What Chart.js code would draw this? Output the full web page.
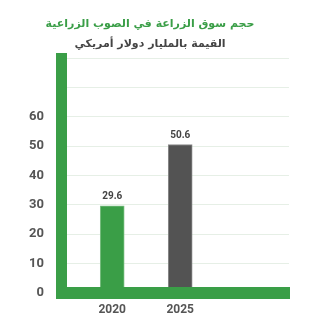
<!DOCTYPE html>
<html>
<head>
<meta charset="utf-8">
<script src="https://cdn.jsdelivr.net/npm/chart.js@4/dist/chart.umd.min.js"></script>
<style>
  body { margin: 0; background: #fff; }
</style>
</head>
<body>
<canvas id="marketChart" width="325" height="325"></canvas>
<script>
const years = [2020, 2025];
const marketSize = [29.6, 50.6];
const barColors = ["#3a9e47", "#535353"];
const yTicks = [0, 10, 20, 30, 40, 50, 60];

const GREEN = "#3a9e47";

// value labels above each bar
const valueLabels = {
  id: "valueLabels",
  afterDatasetsDraw(chart) {
    const ctx = chart.ctx;
    const meta = chart.getDatasetMeta(0);
    ctx.save();
    ctx.font = "bold 10px Roboto";
    ctx.fillStyle = "#444";
    ctx.textAlign = "center";
    ctx.textBaseline = "middle";
    meta.data.forEach((bar, i) => {
      ctx.fillText(marketSize[i].toFixed(1), bar.x, bar.y - 9);
    });
    ctx.restore();
  }
};

new Chart(document.getElementById("marketChart").getContext("2d"), {
  type: "bar",
  data: {
    datasets: [{
      data: years.map((y, i) => ({ x: y, y: marketSize[i] })),
      backgroundColor: barColors,
      borderColor: ["#7dbf84", "#8c8c8c"],
      borderWidth: 1,
      barThickness: 24
    }]
  },
  options: {
    responsive: false,
    animation: false,
    layout: { padding: { top: 6, left: 11, right: 36, bottom: -2 } },
    plugins: {
      legend: { display: false },
      tooltip: { enabled: false },
      title: {
        display: true,
        text: "حجم سوق الزراعة في الصوب الزراعية",
        color: GREEN,
        font: { family: "'DejaVu Sans'", size: 11, weight: "bold" },
        padding: { top: 12, bottom: 3 }
      },
      subtitle: {
        display: true,
        text: "القيمة بالمليار دولار أمريكي",
        color: "#444",
        font: { family: "'DejaVu Sans'", size: 11, weight: "bold" },
        padding: { top: 3, bottom: 8 }
      }
    },
    scales: {
      x: {
        type: "linear",
        offset: false,
        min: 2016.3,
        max: 2033,
        afterBuildTicks: scale => {
          scale.ticks = years.map(v => ({ value: v }));
        },
        grid: { display: false, drawTicks: false },
        border: { color: GREEN, width: 12, z: 1 },
        ticks: {
          color: "#555",
          font: { family: "Roboto", size: 12, weight: "bold" },
          padding: 10,
          callback: v => String(v)
        }
      },
      y: {
        min: 0,
        max: 80,
        ticks: {
          stepSize: 10,
          color: "#555",
          font: { family: "Roboto", size: 13, weight: "bold" },
          padding: 18,
          callback: v => (yTicks.includes(v) ? v : "")
        },
        grid: { color: "#e6efe6", drawTicks: false },
        border: { color: GREEN, width: 11, z: 1 }
      }
    }
  },
  plugins: [valueLabels]
});
</script>
</body>
</html>
